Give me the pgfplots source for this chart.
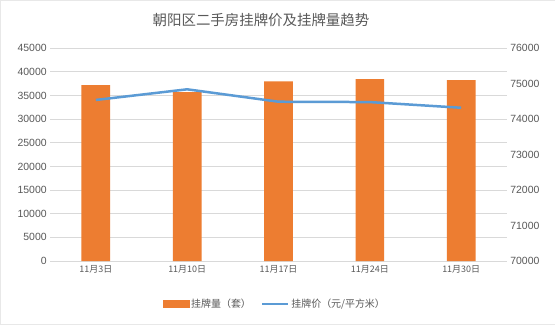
\documentclass[border=0pt]{standalone}
\usepackage{fontspec}
\setmainfont{Liberation Sans}
\newfontfamily\cjk{Noto Sans CJK SC}
\usepackage{pgfplots}
\pgfplotsset{compat=1.18}
\definecolor{barorange}{HTML}{ED7D31}
\definecolor{lineblue}{HTML}{5B9BD5}
\definecolor{gridgray}{HTML}{D9D9D9}
\definecolor{txtgray}{HTML}{595959}
\begin{document}
\begin{tikzpicture}[x=1bp,y=1bp]
\path[use as bounding box, fill=white, draw=gridgray!60] (0,0) rectangle (555,324);
\node[font=\cjk\fontsize{14.5}{16}\selectfont, text=txtgray] at (261,304) {朝阳区二手房挂牌价及挂牌量趋势};
\begin{axis}[
  at={(50bp,63bp)}, anchor=south west,
  scale only axis, width=457bp, height=213bp,
  xmin=-0.5, xmax=4.5, ymin=0, ymax=45000,
  ytick={0,5000,...,45000},
  xtick={0,1,2,3,4},
  xticklabels={11月3日,11月10日,11月17日,11月24日,11月30日},
  xticklabel style={font=\cjk\fontsize{9}{10}\selectfont, text=txtgray, yshift=-1bp},
  yticklabel style={font=\fontsize{10.5}{12}\selectfont, text=txtgray},
  /pgf/number format/assume math mode=true,
  /pgf/number format/1000 sep={},
  scaled y ticks=false,
  axis line style={draw=none},
  major tick length=0pt,
  ymajorgrids, grid style={gridgray, line width=0.8bp},
  axis x line*=bottom, axis y line*=left,
  clip=false,
]
\addplot[ybar, bar width=28.7bp, fill=barorange, draw=none] coordinates {
(0,37200) (1,35700) (2,38000) (3,38450) (4,38250)};
\end{axis}
\begin{axis}[
  at={(50bp,63bp)}, anchor=south west,
  scale only axis, width=457bp, height=213bp,
  xmin=-0.5, xmax=4.5, ymin=70000, ymax=76000,
  ytick={70000,71000,...,76000},
  xtick=\empty,
  axis x line=none,
  axis y line*=right,
  axis line style={draw=none},
  major tick length=0pt,
  yticklabel style={font=\fontsize{10.5}{12}\selectfont, text=txtgray},
  /pgf/number format/assume math mode=true,
  /pgf/number format/1000 sep={},
  scaled y ticks=false,
  legend columns=2,
  legend style={at={(0.492,-0.202)}, anchor=center, draw=none, fill=none,
    font=\cjk\fontsize{10}{11}\selectfont, text=txtgray,
    /tikz/every even column/.append style={column sep=8bp}},
  clip=false,
]
\addlegendimage{area legend, legend image code/.code={\fill[barorange] (0bp,-3.5bp) rectangle (26bp,3.5bp);}}
\addlegendentry{挂牌量（套）}
\addplot[lineblue, line width=2.5bp, legend image code/.code={\draw[lineblue, line width=2.5bp] (0bp,0bp) -- (26bp,0bp);}] coordinates {
(0,74540) (1,74840) (2,74490) (3,74480) (4,74320)};
\addlegendentry{挂牌价（元/平方米）}
\end{axis}
\end{tikzpicture}
\end{document}
